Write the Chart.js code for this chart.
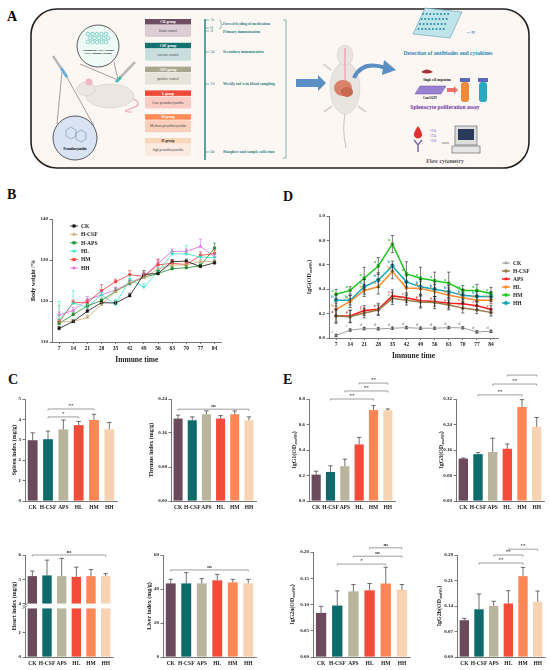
<!DOCTYPE html>
<html><head><meta charset="utf-8">
<script src="https://cdn.jsdelivr.net/npm/chart.js@4.4.1/dist/chart.umd.min.js"></script>
<style>
html,body{margin:0;padding:0;background:#fff;width:550px;height:670px;overflow:hidden;position:relative;font-family:'Liberation Serif','Times New Roman',serif}
.lbl{position:absolute;font:bold 14px 'Liberation Serif',serif;line-height:14px;color:#111}
.cw{position:absolute}
</style></head><body>
<div id="panelA"></div>
<div class="lbl" style="left:7px;top:188px">B</div>
<div class="lbl" style="left:283px;top:190px">D</div>
<div class="lbl" style="left:8px;top:373px">C</div>
<div class="lbl" style="left:283px;top:373px">E</div>
<script>
// ================= DATA =================
const weeks = ['7','14','21','28','35','42','49','56','63','70','77','84'];
const groupsB = ['CK','H-CSF','H-APS','HL','HM','HH'];
const bwCK   = [113.3,115.0,117.5,119.6,119.5,121.3,126.5,126.7,129.6,129.7,128.4,129.3];
const bwHCSF = [114.9,115.0,116.0,119.1,122.3,124.4,125.7,127.8,128.8,128.8,129.6,129.6];
const bwHAPS = [114.5,116.7,118.8,120.1,122.4,124.2,125.8,126.7,127.9,128.1,128.6,132.9];
const bwHL   = [115.4,119.5,118.5,121.5,119.2,125.3,123.4,127.2,131.5,131.5,130.7,130.6];
const bwHM   = [114.8,119.6,119.6,122.5,124.7,126.4,126.0,128.8,129.2,128.9,131.1,131.6];
const bwHH   = [116.6,117.7,120.3,121.5,122.7,124.4,126.0,129.2,132.1,132.1,133.3,130.8];
const bwErrCK   = [0.5,0.5,0.5,0.6,0.5,0.6,0.9,0.7,0.5,0.5,0.5,0.5];
const bwErrHCSF = [4.0,0.5,0.5,0.5,1.0,0.7,0.9,2.5,0.5,0.5,0.5,0.5];
const bwErrHAPS = [0.5,0.6,0.5,0.6,0.7,0.8,0.6,0.6,0.5,0.5,0.5,1.2];
const bwErrHL   = [4.5,3.0,0.8,0.6,1.2,0.9,0.8,1.1,0.6,2.0,0.9,0.8];
const bwErrHM   = [0.6,0.6,0.8,1.5,0.6,1.0,0.8,1.2,0.6,0.6,0.9,0.8];
const bwErrHH   = [0.7,0.7,0.8,0.8,0.7,0.7,0.8,1.0,0.6,0.6,1.8,0.7];
const bwTicks = [110,120,130,140];

const groupsD = ['CK','H-CSF','APS','HL','HM','HH'];
const igCK   = [0.02,0.065,0.077,0.075,0.08,0.085,0.08,0.08,0.085,0.083,0.05,0.055];
const igHCSF = [0.18,0.175,0.205,0.23,0.325,0.31,0.295,0.29,0.27,0.245,0.23,0.21];
const igAPS  = [0.18,0.18,0.225,0.235,0.345,0.33,0.305,0.30,0.285,0.28,0.265,0.235];
const igHL   = [0.235,0.30,0.39,0.42,0.545,0.41,0.405,0.38,0.35,0.33,0.31,0.31];
const igHM   = [0.358,0.39,0.49,0.59,0.77,0.525,0.49,0.47,0.45,0.39,0.39,0.365];
const igHH   = [0.31,0.31,0.42,0.475,0.59,0.46,0.42,0.40,0.38,0.35,0.34,0.34];
const igErrCK   = [0.01,0.01,0.01,0.01,0.01,0.01,0.01,0.01,0.01,0.01,0.01,0.01];
const igErrHCSF = [0.05,0.05,0.04,0.04,0.05,0.04,0.05,0.05,0.04,0.04,0.03,0.03];
const igErrAPS  = [0.06,0.05,0.04,0.05,0.05,0.04,0.05,0.04,0.04,0.04,0.03,0.03];
const igErrHL   = [0.05,0.05,0.05,0.06,0.06,0.05,0.06,0.06,0.06,0.04,0.04,0.03];
const igErrHM   = [0.04,0.03,0.09,0.07,0.07,0.10,0.09,0.07,0.09,0.04,0.05,0.05];
const igErrHH   = [0.05,0.04,0.06,0.06,0.04,0.05,0.06,0.06,0.05,0.05,0.04,0.04];
const igLetCK = 'ecdddddddddd', igLetHCSF = 'cccccccccccc', igLetAPS = 'cccccccccccc',
      igLetHL = 'bbbbbbbbbbbb', igLetHM = 'aaaaaaaaaaaa', igLetHH = 'bbbbbbbbbbbb';
const igTicks = [0,0.2,0.4,0.6,0.8,1.0];

const barGroups = ['CK','H-CSF','APS','HL','HM','HH'];
const spleen = [2.98,3.03,3.51,3.72,3.97,3.52];       const spleenErr = [0.36,0.40,0.46,0.18,0.28,0.33];
const thymus = [0.194,0.190,0.204,0.194,0.204,0.190]; const thymusErr = [0.008,0.008,0.008,0.007,0.008,0.008];
const heart  = [5.13,5.16,5.13,5.10,5.13,5.13];       const heartErr  = [0.21,0.63,0.73,0.40,0.27,0.10];
const liver  = [43.3,43.3,43.3,45.1,43.9,43.3];       const liverErr  = [2.4,6.3,2.8,3.5,1.8,2.4];
const igg1   = [0.207,0.228,0.273,0.444,0.714,0.711]; const igg1Err   = [0.027,0.048,0.055,0.055,0.034,0.011];
const igg3   = [0.133,0.147,0.154,0.164,0.295,0.233]; const igg3Err   = [0.002,0.005,0.043,0.015,0.023,0.029];
const igg2a  = [0.084,0.098,0.125,0.127,0.140,0.128]; const igg2aErr  = [0.0125,0.028,0.013,0.013,0.031,0.010];
const igg2b  = [0.101,0.131,0.140,0.147,0.222,0.152]; const igg2bErr  = [0.005,0.042,0.013,0.035,0.024,0.029];
const spleenTicks = [0,1,2,3,4,5];
const thymusTicks = [0,0.08,0.16,0.24];
const heartTicksLow = [0,1];
const heartTicksHigh = [4,5,6];
const liverTicks = [0,20,40,60];
const igg1Ticks = [0,0.2,0.4,0.6,0.8];
const igg3Ticks = [0,0.08,0.16,0.24,0.32];
const igg2aTicks = [0,0.05,0.10,0.15,0.20];
const igg2bTicks = [0,0.07,0.14,0.21,0.28];
// significance: [fromIndex, toIndex, value, label]
const spleenSig = [[1,4,4.51,'**'],[1,3,4.12,'*']];
const thymusSig = [[0,5,0.216,'ns']];
const heartSig  = [[0,5,6.0,'ns']];
const liverSig  = [[0,5,51.2,'ns']];
const igg1Sig   = [[1,4,0.80,'**'],[2,5,0.863,'**'],[3,5,0.925,'**']];
const igg3Sig   = [[1,4,0.333,'**'],[2,5,0.367,'**'],[3,5,0.395,'**']];
const igg2aSig  = [[1,4,0.177,'*'],[2,5,0.192,'ns'],[3,5,0.208,'ns']];
const igg2bSig  = [[1,4,0.258,'**'],[2,4,0.280,'**'],[3,5,0.296,'**']];

// ================= PANEL A (schematic) =================
(function(){
  const grp = [['CK group','blank control','#6e4d60','#dccdd4','#fff'],
   ['CSF group','vaccine control','#12706f','#c9dfdf','#fff'],
   ['APS group','positive control','#aaa78f','#e6e4da','#fff'],
   ['L group','Low proanthocyanidin','#f04a3a','#f9cbc3','#fff'],
   ['M group','Medium proanthocyanidin','#ff8b55','#fad0bd','#fff'],
   ['H group','high proanthocyanidin','#f8d6b8','#faeadf','#333']];
  let g = '';
  grp.forEach((r,i)=>{ const y = 19 + i*23.8;
    g += `<rect x="145" y="${y}" width="46" height="5.5" fill="${r[2]}"/>
    <text x="168" y="${y+4.2}" font-size="3.6" text-anchor="middle" fill="${r[4]}" font-weight="bold">${r[0]}</text>
    <rect x="145" y="${y+6}" width="46" height="12" rx="1.5" fill="${r[3]}"/>
    <text x="168" y="${y+13.2}" font-size="3.4" text-anchor="middle" fill="#444">${r[1]}</text>`; });
  const tl = [['-5d',20],['0d',28],['1d',31],['14d',52],['21d',84],['84d',152]];
  tl.forEach(t=>{ g += `<line x1="205" y1="${t[1]}" x2="209" y2="${t[1]}" stroke="#2f8f8a" stroke-width="0.6"/>
    <text x="210" y="${t[1]+1.2}" font-size="3" fill="#2f7f7a">${t[0]}</text>`; });
  const tt = [['Forced feeding of medication',24.5],['Primary immunization',32.5],['Secondary immunization',52.8],['Weekly tail vein blood sampling',84.8],['Slaughter and sample collection',152.8]];
  tt.forEach(t=>{ g += `<text x="223" y="${t[1]}" font-size="3.8" fill="#2a7f7a" font-weight="bold">${t[0]}</text>`; });
  let dots = '';
  for (let i=0;i<5;i++) for (let j=0;j<3;j++) dots += `<circle cx="${88+i*4.5+(j%2)*2}" cy="${34+j*4}" r="1.8" fill="none" stroke="#2ab0a0" stroke-width="0.5"/>`;
  let pd = '';
  for (let i=0;i<8;i++) for (let j=0;j<4;j++) pd += `<circle cx="${423+i*3.6-j*1.5}" cy="${14+j*5}" r="1" fill="#1f8fa0"/>`;
  const svg = `<svg width="550" height="175" viewBox="0 0 550 175" style="position:absolute;left:0;top:0" font-family="Liberation Serif, serif">
  <text x="7" y="21" font-size="14" font-weight="bold">A</text>
  <rect x="31" y="9" width="498" height="159" rx="26" fill="#fdf7f4" stroke="#222" stroke-width="1.6"/>
  <line x1="62" y1="72" x2="57" y2="124" stroke="#444" stroke-width="0.5"/>
  <line x1="64" y1="72" x2="94" y2="126" stroke="#444" stroke-width="0.5"/>
  <line x1="118" y1="80" x2="80" y2="64" stroke="#444" stroke-width="0.5"/>
  <line x1="118" y1="80" x2="114" y2="62" stroke="#444" stroke-width="0.5"/>
  <circle cx="98" cy="46" r="21" fill="#eefaf6" stroke="#333" stroke-width="0.8"/>
  ${dots}
  <text x="98" y="50.5" font-size="2.9" text-anchor="middle" font-weight="bold">Attenuated CSFV vaccine</text>
  <text x="98" y="54" font-size="2.9" text-anchor="middle" font-weight="bold">CSFV subunit vaccine</text>
  <line x1="53" y1="56" x2="67" y2="77" stroke="#b9b9b9" stroke-width="2.6"/>
  <line x1="61" y1="68" x2="67" y2="77" stroke="#6ab0e0" stroke-width="2.8"/>
  <line x1="135" y1="62" x2="117" y2="81" stroke="#b9b9b9" stroke-width="2.6"/>
  <line x1="121" y1="77" x2="116" y2="82" stroke="#3fc0b0" stroke-width="2.8"/>
  <ellipse cx="110" cy="96" rx="24" ry="12" fill="#ebe6e2" stroke="#cfc8c2" stroke-width="0.5"/>
  <ellipse cx="86" cy="89" rx="9" ry="7" fill="#ebe6e2" stroke="#cfc8c2" stroke-width="0.5"/>
  <circle cx="89" cy="82" r="3.5" fill="#f2b8c0"/>
  <path d="M133 99 Q145 104 130 109 Q120 112 132 112" fill="none" stroke="#f0a8b8" stroke-width="1.2"/>
  <circle cx="75" cy="138" r="22" fill="#d8e4f4" stroke="#333" stroke-width="0.8"/>
  <path d="M66 130 l5 -3 l5 3 l0 6 l-5 3 l-5 -3z M76 133 l5 -3 l5 3 l0 6 l-5 3 l-5 -3z" fill="none" stroke="#6a7aa0" stroke-width="0.5"/>
  <text x="75" y="150" font-size="3" text-anchor="middle" font-weight="bold">Proanthocyanidin</text>
  ${g}
  <line x1="205" y1="19" x2="205" y2="160" stroke="#2f8f8a" stroke-width="1.6"/>
  <path d="M219 20 q2 0 2 2 l0 1 q0 1.5 1.5 1.5 q-1.5 0 -1.5 1.5 l0 1 q0 2 -2 2" fill="none" stroke="#2f8f8a" stroke-width="0.5"/>
  <path d="M283 20 l3 0 l0 138 l-3 0" fill="none" stroke="#2f8f8a" stroke-width="0.6"/>
  <polygon points="296,79 318,79 318,75 326,83 318,91 318,87 296,87" fill="#5b8fc4"/>
  <ellipse cx="345" cy="88" rx="15" ry="26" fill="#e8e4e0" stroke="#ccc" stroke-width="0.5"/>
  <ellipse cx="345" cy="55" rx="8" ry="10" fill="#e8e4e0" stroke="#ccc" stroke-width="0.5"/>
  <line x1="345" y1="48" x2="345" y2="80" stroke="#f09aa8" stroke-width="1.2"/>
  <ellipse cx="343" cy="88" rx="9" ry="8" fill="#d9826a"/>
  <ellipse cx="347" cy="92" rx="6" ry="5" fill="#c8684e"/>
  <path d="M345 114 Q342 130 346 148" fill="none" stroke="#c8c2bc" stroke-width="1"/>
  <path d="M331 70 l-8 -6 M359 70 l8 -6 M332 106 l-8 6 M358 106 l8 6" stroke="#d8d2cc" stroke-width="2"/>
  <path d="M354 78 Q362 60 386 68" fill="none" stroke="#5b8fc4" stroke-width="4"/>
  <polygon points="384,60 396,70 382,75" fill="#5b8fc4"/>
  <polygon points="413,34 425,8 462,12 450,38" fill="#bfe4ec" stroke="#5a9ab0" stroke-width="0.6"/>
  ${pd}
  <text x="465" y="34" font-size="6" fill="#1f6fa0" font-weight="bold">→∞</text>
  <text x="448" y="55" font-size="5.6" text-anchor="middle" fill="#1e86b4" font-weight="bold">Detection of antibiodes and cytokines</text>
  <path d="M421 72 q6 -5 12 0 q-6 3 -12 0z" fill="#a8323a"/>
  <text x="437" y="81" font-size="3" text-anchor="middle" font-weight="bold">Single cell suspension</text>
  <polygon points="415,94 420,86 446,86 441,94" fill="#9a80d0" stroke="#6a50a0" stroke-width="0.5"/>
  <text x="430" y="99" font-size="3" text-anchor="middle" font-weight="bold">ConA/LPS</text>
  <polygon points="447,88 454,88 454,86 458,90 454,94 454,92 447,92" fill="#f07070"/>
  <rect x="460" y="78" width="10" height="4" fill="#5a6ab8"/><rect x="461" y="82" width="8" height="20" rx="3" fill="#f08a3a"/>
  <rect x="478" y="78" width="10" height="4" fill="#5a6ab8"/><rect x="479" y="82" width="8" height="20" rx="3" fill="#2aa8c0"/>
  <text x="445" y="109" font-size="5.6" text-anchor="middle" fill="#7030a0" font-weight="bold">Splenocyte poliferation assay</text>
  <path d="M418 126 q-5 7 -4 10 q4 5 8 0 q1 -3 -4 -10z" fill="#e03030"/>
  <text x="430" y="132" font-size="3.3" fill="#7070b8">CD4</text>
  <text x="430" y="137" font-size="3.3" fill="#7070b8">CD4</text>
  <text x="430" y="142" font-size="3.3" fill="#7070b8">CD8</text>
  <path d="M414 140 l4 5 l4 -5 M418 145 l0 7" stroke="#8070b0" stroke-width="1.6" fill="none"/>
  <line x1="442" y1="143" x2="449" y2="143" stroke="#444" stroke-width="0.6"/>
  <rect x="455" y="126" width="22" height="19" fill="#ddd" stroke="#555" stroke-width="0.6"/>
  <rect x="458" y="129" width="16" height="11" fill="#2a3a5a"/>
  <rect x="452" y="146" width="28" height="7" fill="#e6e6e6" stroke="#555" stroke-width="0.6"/>
  <text x="445" y="163" font-size="5.6" text-anchor="middle" fill="#555" font-weight="bold">Flow cytometry</text>
  </svg>`;
  document.getElementById('panelA').innerHTML = svg;
})();

// ================= CHART HELPERS =================
const FONT = "'Liberation Serif','Times New Roman',serif";
Chart.defaults.font.family = FONT;
Chart.defaults.font.weight = 'bold';
Chart.defaults.color = '#222';
const AX = '#555';

const errPlugin = { id:'errbars', afterDatasetsDraw(chart){
  const ctx = chart.ctx;
  chart.data.datasets.forEach((ds,i)=>{
    if (!ds.errs) return;
    const meta = chart.getDatasetMeta(i); const ys = chart.scales[meta.yAxisID];
    const vals = ds.errVals || ds.data;
    ctx.save(); ctx.strokeStyle = ds.errColor || '#333'; ctx.lineWidth = ds.errWidth || 0.7;
    meta.data.forEach((el,j)=>{
      const e = ds.errs[j]; if (e == null) return;
      const v = vals[j]; const x = el.x; const cw = ds.capW || 2;
      const y1 = ys.getPixelForValue(v + e);
      const y0 = ds.twoSided ? ys.getPixelForValue(v - e) : ys.getPixelForValue(v);
      ctx.beginPath(); ctx.moveTo(x,y0); ctx.lineTo(x,y1);
      ctx.moveTo(x-cw,y1); ctx.lineTo(x+cw,y1);
      if (ds.twoSided){ ctx.moveTo(x-cw,y0); ctx.lineTo(x+cw,y0); }
      ctx.stroke();
    });
    ctx.restore();
  });
}};
const sigPlugin = { id:'sigbr', afterDraw(chart){
  const ds = chart.data.datasets.find(d=>d.sig); if (!ds) return;
  const ctx = chart.ctx, xs = chart.scales.x, ys = chart.scales[ds.sigAxis || 'y'];
  ctx.save(); ctx.strokeStyle = '#777'; ctx.lineWidth = 0.7; ctx.fillStyle = '#333';
  ctx.font = "bold 5px " + FONT; ctx.textAlign = 'center'; ctx.textBaseline = 'bottom';
  ds.sig.forEach(([a,b,v,t])=>{
    const x0 = xs.getPixelForValue(a), x1 = xs.getPixelForValue(b), y = ys.getPixelForValue(v);
    ctx.beginPath(); ctx.moveTo(x0,y+1.5); ctx.lineTo(x0,y); ctx.lineTo(x1,y); ctx.lineTo(x1,y+1.5); ctx.stroke();
    ctx.fillText(t, (x0+x1)/2, y-0.5);
  });
  ctx.restore();
}};
const lgPlugin = { id:'lg', afterDraw(chart, args, o){
  if (!o || o.x == null) return;
  const ctx = chart.ctx, r = chart.canvas.getBoundingClientRect();
  ctx.save(); ctx.font = "bold " + (o.size||5.5) + "px " + FONT; ctx.textBaseline = 'middle'; ctx.textAlign='left';
  chart.data.datasets.forEach((ds,i)=>{
    const x = o.x - r.left, y = o.y - r.top + i*o.dy;
    ctx.strokeStyle = ds.borderColor; ctx.lineWidth = ds.borderWidth || 1;
    ctx.beginPath(); ctx.moveTo(x,y); ctx.lineTo(x+o.len,y); ctx.stroke();
    ctx.fillStyle = ds.pointBackgroundColor || ds.borderColor; ctx.strokeStyle = ds.borderColor; ctx.lineWidth = 0.5;
    if (Chart.helpers && Chart.helpers.drawPoint) Chart.helpers.drawPoint(ctx, {pointStyle: ds.pointStyle, radius: 1.8, rotation: ds.pointRotation||0, borderWidth:0.5}, x+o.len/2, y);
    ctx.fillStyle = '#222'; ctx.fillText(ds.label, x+o.len+3, y+0.3);
  });
  ctx.restore();
}};
const letPlugin = { id:'letters', afterDatasetsDraw(chart){
  const ctx = chart.ctx; ctx.save(); ctx.font = "bold 4.5px " + FONT; ctx.textAlign='center'; ctx.textBaseline='bottom';
  chart.data.datasets.forEach((ds,i)=>{
    if (!ds.letters) return;
    const meta = chart.getDatasetMeta(i); ctx.fillStyle = ds.borderColor;
    meta.data.forEach((el,j)=>{ ctx.fillText(ds.letters[j], el.x-3.5, el.y-1.5); });
  });
  ctx.restore();
}};
const brkPlugin = { id:'brk', afterDraw(chart, args, o){
  if (!o || !o.on) return;
  const ctx = chart.ctx, lo = chart.scales.y, ax = chart.chartArea.left, mid = lo.top;
  ctx.save(); ctx.fillStyle = '#fff'; ctx.fillRect(ax-3, mid-1.5, 6, 3);
  ctx.strokeStyle = '#444'; ctx.lineWidth = 0.7; ctx.beginPath();
  ctx.moveTo(ax-2.5, mid+0.5); ctx.lineTo(ax+2.5, mid-2.5);
  ctx.moveTo(ax-2.5, mid+2.5); ctx.lineTo(ax+2.5, mid-0.5); ctx.stroke();
  if (o.title){ ctx.save(); ctx.translate(o.tx - chart.canvas.getBoundingClientRect().left, (chart.chartArea.top+chart.chartArea.bottom)/2);
    ctx.rotate(-Math.PI/2); ctx.fillStyle='#222'; ctx.font = "bold 6px " + FONT; ctx.textAlign='center'; ctx.textBaseline='middle';
    ctx.fillText(o.title, 0, 0); ctx.restore(); }
  ctx.restore();
}};
Chart.register(errPlugin, sigPlugin, lgPlugin, letPlugin, brkPlugin);

function mk(area, yw, xh, pt, pr, cfg){
  const d = document.createElement('div'); d.className = 'cw';
  d.style.left = (area.l - yw) + 'px'; d.style.top = (area.t - pt) + 'px';
  d.style.width = (area.r - area.l + yw + pr) + 'px'; d.style.height = (area.b - area.t + pt + xh) + 'px';
  const c = document.createElement('canvas'); d.appendChild(c); document.body.appendChild(d);
  const o = cfg.options = cfg.options || {};
  Object.assign(o, {responsive:true, maintainAspectRatio:false, animation:false,
    layout:{padding:{top:pt, right:pr, left:0, bottom:0}}});
  o.plugins = Object.assign({legend:{display:false}, tooltip:{enabled:false}}, o.plugins || {});
  return new Chart(c, cfg);
}
function yScale(ticks, dec, title, yw, extra){
  return Object.assign({
    type:'linear', position:'left', min: ticks[0], max: ticks[ticks.length-1],
    afterBuildTicks: s => { s.ticks = ticks.map(v => ({value:v})); },
    ticks:{font:{size:5, weight:'bold'}, color:'#222', padding:1.5, callback: v => Number(v).toFixed(dec)},
    grid:{display:true, drawOnChartArea:false, drawTicks:true, tickLength:2.5, color:AX, lineWidth:0.8},
    border:{display:true, color:AX, width:0.8},
    title: title ? {display:true, text:title, font:{size:6, weight:'bold'}, color:'#222', padding:{top:0, bottom:0}} : {display:false},
    afterFit: s => { s.width = yw; }
  }, extra || {});
}
function xScale(xh, size, title, ticksOn){
  return { type:'category', offset:true,
    ticks:{font:{size:size, weight:'bold'}, color:'#222', padding: ticksOn ? 1 : 3, autoSkip:false, maxRotation:0},
    grid:{display:true, drawOnChartArea:false, drawTicks: !!ticksOn, tickLength:2, color:AX, lineWidth:0.8, offset:false},
    border:{display:true, color:AX, width:0.8},
    title: title ? {display:true, text:title, font:{size:7.5, weight:'bold'}, color:'#222', padding:{top:2, bottom:0}} : {display:false},
    afterFit: s => { s.height = xh; } };
}
const barColors = ['#6b4a5c','#0f6b6b','#b8b59c','#f24b3a','#ff8755','#f8d3b3'];
function barChart(area, yw, xh, pt, vals, errs, ticks, dec, title, sig){
  return mk(area, yw, xh, pt, 3, {
    type:'bar',
    data:{labels: barGroups, datasets:[{data: vals, errs: errs, sig: sig, backgroundColor: barColors,
      categoryPercentage:0.64, barPercentage:1, capW:2.2}]},
    options:{scales:{x: xScale(xh, 5.5, null, false), y: yScale(ticks, dec, title, yw)}}
  });
}

// ================= PANEL B =================
const bColors = ['#111111','#c9a66b','#1e8b2a','#2ee8c8','#ff3333','#e066e0'];
const bStyles = ['rect','triangle','rect','triangle','rect','triangle'];
const bSeries = [bwCK,bwHCSF,bwHAPS,bwHL,bwHM,bwHH];
const bErrs = [bwErrCK,bwErrHCSF,bwErrHAPS,bwErrHL,bwErrHM,bwErrHH];
mk({l:52,t:219,r:222,b:342}, 22, 23, 6, 4, {
  type:'line',
  data:{labels: weeks, datasets: bSeries.map((s,i)=>({label: groupsB[i], data: s, errs: bErrs[i], errColor: bColors[i], errWidth:0.6, capW:1.6,
    borderColor: bColors[i], backgroundColor: bColors[i], pointBackgroundColor: bColors[i], borderWidth:0.8,
    pointStyle: bStyles[i], pointRotation: i===3 ? 180 : 0, pointRadius:1.8, pointBorderWidth:0.4, tension:0}))},
  options:{scales:{x: xScale(23, 5.5, 'Immune time', true), y: yScale(bwTicks, 0, 'Body weight /%', 22)},
    plugins:{lg:{x:70, y:226, dy:8.4, len:8, size:5.5}}}
});

// ================= PANEL D =================
const dColors = ['#a0a0a0','#9a7a4a','#ff1a1a','#ff8c2a','#1ec81e','#10a8b8'];
const dStyles = ['triangle','rectRot','triangle','rectRot','rect','circle'];
const dSeries = [igCK,igHCSF,igAPS,igHL,igHM,igHH];
const dErrs = [igErrCK,igErrHCSF,igErrAPS,igErrHL,igErrHM,igErrHH];
const dLets = [igLetCK,igLetHCSF,igLetAPS,igLetHL,igLetHM,igLetHH];
mk({l:329,t:216,r:498,b:338}, 23, 23, 6, 50, {
  type:'line',
  data:{labels: weeks, datasets: dSeries.map((s,i)=>({label: groupsD[i], data: s, errs: dErrs[i], twoSided:true, errColor:'#222', errWidth:0.6, capW:1.6,
    letters: dLets[i], borderColor: dColors[i], backgroundColor: dColors[i], pointBackgroundColor: dColors[i],
    borderWidth: i===0 ? 1 : 1.5, pointStyle: dStyles[i], pointRadius:2, pointBorderWidth:0.4, tension:0}))},
  options:{scales:{x: xScale(23, 5.5, 'Immune time', true), y: yScale(igTicks, 1, 'IgG(OD\u2084\u2085\u2080\u2099\u2098)', 23)},
    plugins:{lg:{x:502, y:263, dy:8, len:8, size:5.5}}}
});

// ================= PANEL C =================
barChart({l:25,t:399,r:117,b:501}, 14, 12, 6, spleen, spleenErr, spleenTicks, 0, 'Spleen index (mg/g)', spleenSig);
barChart({l:171,t:399,r:256,b:501}, 23, 12, 14, thymus, thymusErr, thymusTicks, 2, 'Thymus index (mg/g)', thymusSig);
// heart: broken axis (two stacked scales)
mk({l:25,t:555,r:113,b:657}, 14, 13, 6, 3, {
  type:'bar',
  data:{labels: barGroups, datasets:[
    {data: heart.map(v => [0, Math.min(v, 2)]), yAxisID:'y', grouped:false, backgroundColor: barColors, categoryPercentage:0.64, barPercentage:1},
    {data: heart.map(v => [4, v]), yAxisID:'yU', grouped:false, backgroundColor: barColors, categoryPercentage:0.64, barPercentage:1,
     errs: heartErr, errVals: heart, capW:2.2, sig: heartSig, sigAxis:'yU'}]},
  options:{scales:{x: xScale(13, 5.5, null, false),
    y: yScale([0,1,2.1], 0, null, 14, {stack:'hs', stackWeight:1, afterBuildTicks: s => { s.ticks = heartTicksLow.map(v=>({value:v})); }}),
    yU: yScale([3.9,4,5,6], 0, null, 14, {stack:'hs', stackWeight:1, afterBuildTicks: s => { s.ticks = heartTicksHigh.map(v=>({value:v})); }})},
    plugins:{brk:{on:true, title:'Heart index (mg/g)', tx:14}}}
});
barChart({l:163,t:555,r:256,b:657}, 17, 13, 6, liver, liverErr, liverTicks, 0, 'Liver index (mg/g)', liverSig);

// ================= PANEL E =================
barChart({l:309,t:399,r:395,b:501}, 18, 12, 26, igg1, igg1Err, igg1Ticks, 1, 'IgG1(OD\u2084\u2085\u2080\u2099\u2098)', igg1Sig);
barChart({l:456,t:399,r:544,b:501}, 18, 12, 26, igg3, igg3Err, igg3Ticks, 2, 'IgG3(OD\u2084\u2085\u2080\u2099\u2098)', igg3Sig);
barChart({l:313,t:552,r:410,b:657}, 24, 13, 14, igg2a, igg2aErr, igg2aTicks, 2, 'IgG2a(OD\u2084\u2085\u2080\u2099\u2098)', igg2aSig);
barChart({l:457,t:555,r:545,b:657}, 21, 13, 14, igg2b, igg2bErr, igg2bTicks, 2, 'IgG2b(OD\u2084\u2085\u2080\u2099\u2098)', igg2bSig);
</script>
</body></html>
